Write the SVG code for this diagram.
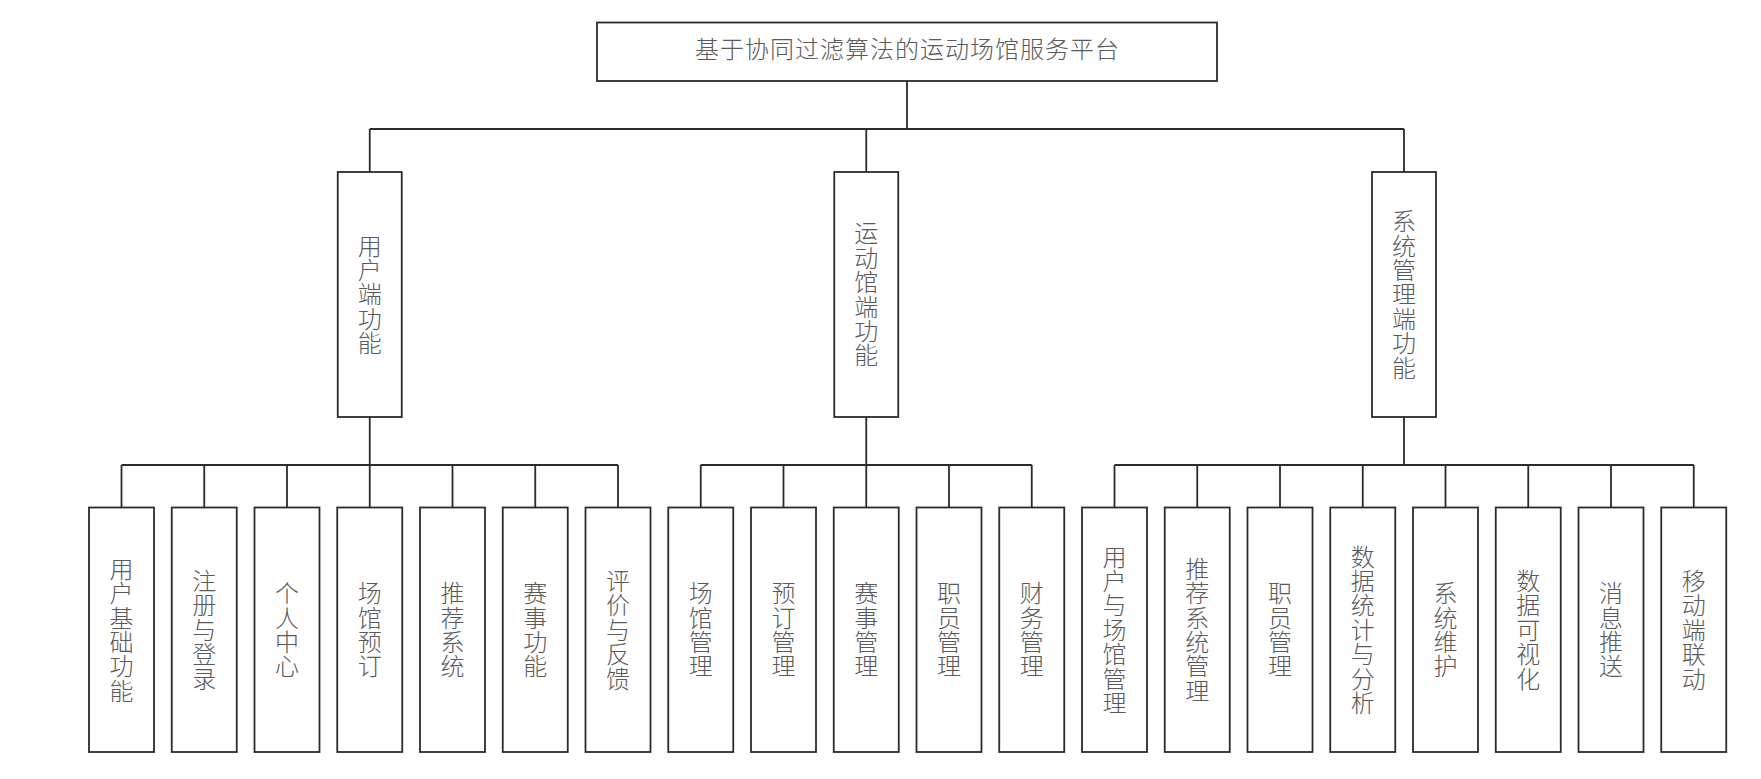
<svg xmlns="http://www.w3.org/2000/svg" width="1761" height="779" viewBox="0 0 1761 779">
<style>
.box{fill:#fff;stroke:#2b2b2b;stroke-width:1.8}
.ln{fill:none;stroke:#2b2b2b;stroke-width:1.8}
.t{font-family:"Noto Sans CJK SC","Noto Sans CJK TC",sans-serif;font-size:24px;font-weight:300;fill:#5a5a5a}
.v{writing-mode:vertical-rl;text-anchor:middle;letter-spacing:0.4px}
.h{text-anchor:middle;dominant-baseline:central;letter-spacing:1px}
</style>
<rect width="1761" height="779" fill="#fff"/>
<g id="connectors">
<path class="ln" d="M907 81V129M369.75 129H1404M369.75 129V172M866.25 129V172M1404 129V172"/>
<path class="ln" d="M369.75 417V465M121.5 465H618M121.5 465V507.5M204.25 465V507.5M287 465V507.5M369.75 465V507.5M452.5 465V507.5M535.25 465V507.5M618 465V507.5"/>
<path class="ln" d="M866.25 417V465M700.75 465H1031.75M700.75 465V507.5M783.5 465V507.5M866.25 465V507.5M949 465V507.5M1031.75 465V507.5"/>
<path class="ln" d="M1404 417V465M1114.5 465H1693.75M1114.5 465V507.5M1197.25 465V507.5M1280 465V507.5M1362.75 465V507.5M1445.5 465V507.5M1528.25 465V507.5M1611 465V507.5M1693.75 465V507.5"/>
</g>
<g id="root"><rect class="box" x="597" y="22.5" width="620" height="58.5"/><text class="t h" x="907.5" y="47">基于协同过滤算法的运动场馆服务平台</text></g>
<g id="user"><rect class="box" x="337.75" y="172" width="64" height="245"/><text class="t v" x="369.75" y="294.5">用户端功能</text></g>
<g id="venue"><rect class="box" x="834.25" y="172" width="64" height="245"/><text class="t v" x="866.25" y="294.5">运动馆端功能</text></g>
<g id="admin"><rect class="box" x="1372" y="172" width="64" height="245"/><text class="t v" x="1404" y="294.5">系统管理端功能</text></g>
<g id="u1"><rect class="box" x="89" y="507.5" width="65" height="244.5"/><text class="t v" x="121.5" y="629.8">用户基础功能</text></g>
<g id="u2"><rect class="box" x="171.75" y="507.5" width="65" height="244.5"/><text class="t v" x="204.25" y="629.8">注册与登录</text></g>
<g id="u3"><rect class="box" x="254.5" y="507.5" width="65" height="244.5"/><text class="t v" x="287" y="629.8">个人中心</text></g>
<g id="u4"><rect class="box" x="337.25" y="507.5" width="65" height="244.5"/><text class="t v" x="369.75" y="629.8">场馆预订</text></g>
<g id="u5"><rect class="box" x="420" y="507.5" width="65" height="244.5"/><text class="t v" x="452.5" y="629.8">推荐系统</text></g>
<g id="u6"><rect class="box" x="502.75" y="507.5" width="65" height="244.5"/><text class="t v" x="535.25" y="629.8">赛事功能</text></g>
<g id="u7"><rect class="box" x="585.5" y="507.5" width="65" height="244.5"/><text class="t v" x="618" y="629.8">评价与反馈</text></g>
<g id="m1"><rect class="box" x="668.25" y="507.5" width="65" height="244.5"/><text class="t v" x="700.75" y="629.8">场馆管理</text></g>
<g id="m2"><rect class="box" x="751" y="507.5" width="65" height="244.5"/><text class="t v" x="783.5" y="629.8">预订管理</text></g>
<g id="m3"><rect class="box" x="833.75" y="507.5" width="65" height="244.5"/><text class="t v" x="866.25" y="629.8">赛事管理</text></g>
<g id="m4"><rect class="box" x="916.5" y="507.5" width="65" height="244.5"/><text class="t v" x="949" y="629.8">职员管理</text></g>
<g id="m5"><rect class="box" x="999.25" y="507.5" width="65" height="244.5"/><text class="t v" x="1031.75" y="629.8">财务管理</text></g>
<g id="a1"><rect class="box" x="1082" y="507.5" width="65" height="244.5"/><text class="t v" x="1114.5" y="629.8">用户与场馆管理</text></g>
<g id="a2"><rect class="box" x="1164.75" y="507.5" width="65" height="244.5"/><text class="t v" x="1197.25" y="629.8">推荐系统管理</text></g>
<g id="a3"><rect class="box" x="1247.5" y="507.5" width="65" height="244.5"/><text class="t v" x="1280" y="629.8">职员管理</text></g>
<g id="a4"><rect class="box" x="1330.25" y="507.5" width="65" height="244.5"/><text class="t v" x="1362.75" y="629.8">数据统计与分析</text></g>
<g id="a5"><rect class="box" x="1413" y="507.5" width="65" height="244.5"/><text class="t v" x="1445.5" y="629.8">系统维护</text></g>
<g id="a6"><rect class="box" x="1495.75" y="507.5" width="65" height="244.5"/><text class="t v" x="1528.25" y="629.8">数据可视化</text></g>
<g id="a7"><rect class="box" x="1578.5" y="507.5" width="65" height="244.5"/><text class="t v" x="1611" y="629.8">消息推送</text></g>
<g id="a8"><rect class="box" x="1661.25" y="507.5" width="65" height="244.5"/><text class="t v" x="1693.75" y="629.8">移动端联动</text></g>
</svg>
